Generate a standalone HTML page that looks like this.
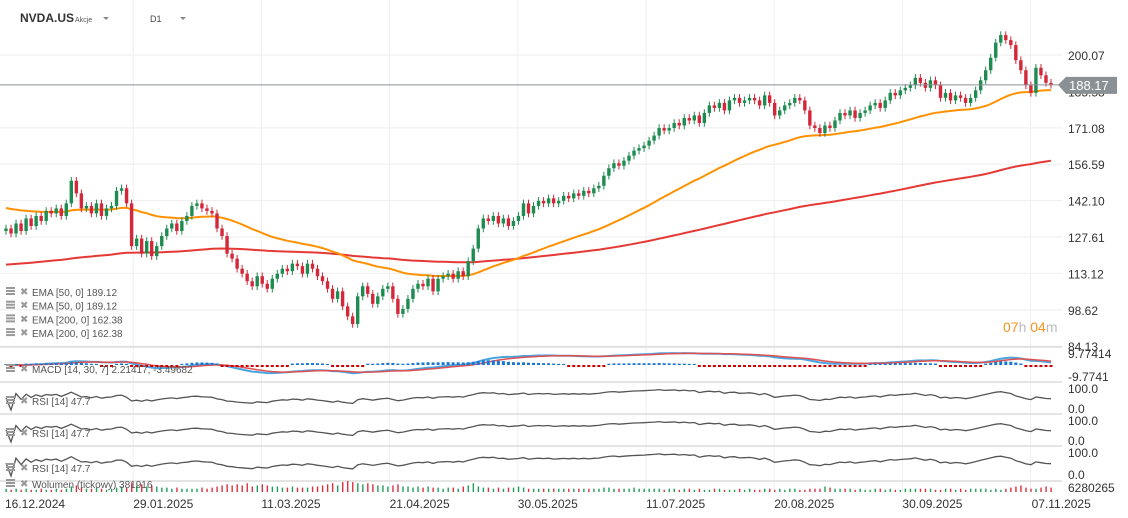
<!DOCTYPE html>
<html><head><meta charset="utf-8"><style>
body{margin:0;background:#fff;}
svg{display:block;font-family:"Liberation Sans",sans-serif;}
</style></head><body>
<svg id="c" width="1128" height="518" viewBox="0 0 1128 518">
<g id="grid"></g>
<g id="marks"></g>
<g>
<text x="20" y="22" font-size="12" font-weight="bold" fill="#333">NVDA.US</text>
<text x="75" y="22" font-size="7" fill="#555">Akcje</text>
<path d="M103 17 l6 0 l-3 3z" fill="#888"/>
<text x="150" y="22" font-size="9" fill="#444">D1</text>
<path d="M180 17 l6 0 l-3 3z" fill="#888"/>
</g>
<text x="1003" y="332" font-size="14" fill="#f7931e">07<tspan fill="#bbb">h</tspan> 04<tspan fill="#bbb">m</tspan></text>
</svg>
<script>
const closes=[131,129,133,130,135,132,136,134,
138,137,139,136,141,
150,145,
139,140,137,141,136,139,140,
146,147,141,
124,127,121,126,120,124,
128,131,133,130,134,136,
140,141,139,138,
137,131,128,
121,119,115,
113,110,108,112,109,107,
111,113,115,114,117,116,113,117,
115,112,110,107,103,106,
100,96,93,104,
108,105,101,104,107,108,
103,97,99,103,
107,109,108,111,106,
111,112,113,111,114,112,
118,123,131,
135,134,136,133,135,132,
134,136,141,
137,140,142,141,143,141,142,144,143,
145,144,146,145,147,148,
152,155,157,156,
158,160,162,163,164,
166,168,171,170,
171,173,172,175,174,176,173,
177,180,179,181,178,
182,183,181,182,183,182,180,184,181,
176,178,180,181,183,182,
178,172,171,169,172,171,
174,177,176,178,175,177,178,180,
181,179,182,185,184,186,
187,188,191,189,187,190,188,
183,185,182,184,183,181,183,186,
190,194,199,205,
208,206,204,
198,194,188,
185,195,192,189,188.17];
const volumes=[3,2,3,2,3,2,2,3,2,2,3,2,3,5,6,4,3,3,4,3,2,3,4,5,4,8,6,7,5,6,5,4,4,3,4,3,3,3,3,4,3,4,5,6,7,6,7,6,8,5,6,7,6,5,5,4,4,5,4,4,4,5,5,6,7,8,6,9,10,9,8,7,8,7,6,6,5,6,7,5,5,4,5,4,5,4,4,3,4,4,3,5,6,8,5,4,4,3,4,3,4,4,5,4,3,3,3,3,3,3,3,3,3,3,3,3,3,3,3,4,4,3,3,3,3,4,3,3,3,3,3,2,3,3,2,3,3,2,3,2,2,3,3,2,2,2,3,2,3,2,2,3,3,2,3,2,3,3,2,2,3,3,3,5,4,3,3,3,3,2,3,2,2,3,3,2,3,2,2,3,3,3,3,3,3,2,2,3,3,2,3,2,3,3,3,3,2,3,2,3,4,5,6,4,3,3,4,5,4,3,4,3,3,4,3];
const priceTicks=[200.07,185.58,171.08,156.59,142.10,127.61,113.12,98.62,84.13];
const dateLabels=["16.12.2024","29.01.2025","11.03.2025","21.04.2025","30.05.2025","11.07.2025","20.08.2025","30.09.2025","07.11.2025"];
const emaLegend=["EMA  [50,  0] 189.12","EMA  [50,  0] 189.12","EMA  [200,  0] 162.38","EMA  [200,  0] 162.38"];

const svg=document.getElementById('c'),G=document.getElementById('grid'),M=document.getElementById('marks');
const NS='http://www.w3.org/2000/svg';
function mk(t,a,p){const e=document.createElementNS(NS,t);for(const k in a)e.setAttribute(k,a[k]);(p||M).appendChild(e);return e;}
const N=closes.length,X0=6,X1=1051;
const xs=i=>X0+i*(X1-X0)/(N-1);
const yp=p=>55+(200.07-p)*2.512;

// grid
priceTicks.forEach((p,i)=>{if(i==1)return;const l=mk('line',{x1:0,x2:1062,y1:yp(p),y2:yp(p),stroke:'#eeeeee'},G);
});
dateLabels.forEach((d,i)=>{const gx=5+i*128.2;
if(i>0){const l=mk('line',{x1:gx,x2:gx,y1:0,y2:492,stroke:'#efefef'},G);}
const t=mk('text',{x:i==8?gx+1:gx,y:508,'font-size':12,fill:'#333'},G);t.textContent=d;
});
[347,382,414,446,481].forEach(y=>{const l=mk('line',{x1:0,x2:1062,y1:y,y2:y,stroke:'#dcdcdc','stroke-width':1.5},G);
});
priceTicks.forEach(p=>{const t=mk('text',{x:1068,y:yp(p)+5,'font-size':12,fill:'#333'},G);t.textContent=p.toFixed(2);
});

// EMA
function ema(arr,n,seed){const a=2/(n+1);let v=seed;return arr.map(c=>v=v+a*(c-v));}
const e50=ema(closes,50,139.5),e200=ema(closes,200,116.5);
function line(vals,yf,col,w,name){const d=vals.map((v,i)=>(i?'L':'M')+xs(i).toFixed(1)+' '+yf(v).toFixed(1)).join('');
const p=mk('path',{d:d,fill:'none',stroke:col,'stroke-width':w});return p;}
line(e200,yp,'#e53935',2,'ema-200-line');
line(e50,yp,'#ff9100',2,'ema-50-line');

// candles
for(let i=0;i<N;i++){const o=i?closes[i-1]:closes[0]-1,c=closes[i];const up=c>=o;const col=up?'#1e8c50':'#d3273a';
const hi=Math.max(o,c)+1.5,lo=Math.min(o,c)-1.5,x=xs(i);
const g=mk('g',{});
mk('line',{x1:x,x2:x,y1:yp(hi),y2:yp(lo),stroke:col,'stroke-width':1},g);
const top=yp(Math.max(o,c)),h=Math.max(1.5,yp(Math.min(o,c))-top);
mk('rect',{x:x-1.7,y:top,width:3.4,height:h,fill:col},g);}

// current price
const cp=closes[N-1];
const pl=mk('line',{x1:0,x2:1060,y1:yp(cp),y2:yp(cp),stroke:'#8a9093','stroke-width':1});
const tag=mk('path',{d:`M1058 ${yp(cp)} L1066 ${yp(cp)-8} L1117 ${yp(cp)-8} L1117 ${yp(cp)+9} L1066 ${yp(cp)+9}Z`,fill:'#8a9093'});
const tt=mk('text',{x:1069,y:yp(cp)+5,'font-size':13,fill:'#fff'});tt.textContent=cp.toFixed(2);

// MACD
const f=ema(closes,14,closes[0]),s=ema(closes,30,closes[0]);const macd=f.map((v,i)=>v-s[i]);const sig=ema(macd,7,0);
const ym=v=>Math.max(350,Math.min(378,365-v*1.23));
line(macd,ym,'#4aa3df',2,'macd-line');line(sig,ym,'#e05050',1.5,'macd-signal-line');
macd.forEach((v,i)=>{const h=v-sig[i];const pos=h>=0;const hh=Math.min(8,Math.abs(h)*1.5)+1;
const r=mk('rect',{x:xs(i)-1.5,y:pos?365-hh:365,width:3,height:pos?hh:2,fill:pos?'#1976d2':'#d00000'});});

// RSI
function rsi(arr,n){let g=0,l=0;const out=[];for(let i=0;i<arr.length;i++){const d=i?arr[i]-arr[i-1]:0;
g=(g*(n-1)+Math.max(d,0))/n;l=(l*(n-1)+Math.max(-d,0))/n;out.push(l===0&&g===0?50:100*g/(g+l));}return out;}
const r=rsi(closes,14);
[[386,410],[418,442],[450,476]].forEach((b,k)=>{line(r,v=>b[1]-(v/100)*(b[1]-b[0]),'#555',1.3,'rsi-line');
let t=mk('text',{x:1068,y:b[0]+7,'font-size':12,fill:'#333'});t.textContent='100.0';
t=mk('text',{x:1068,y:b[1]+3,'font-size':12,fill:'#333'});t.textContent='0.0';});
let t=mk('text',{x:1068,y:358,'font-size':12,fill:'#333'});t.textContent='9.77414';
t=mk('text',{x:1068,y:381,'font-size':12,fill:'#333'});t.textContent='-9.7741';
t=mk('text',{x:1068,y:492,'font-size':12,fill:'#333'});t.textContent='6280265';

// volume
volumes.slice(0,N).forEach((v,i)=>{const up=i==0||closes[i]>=closes[i-1];
const b=mk('rect',{x:xs(i)-0.6,y:492-v*1.1,width:1.4,height:v*1.1,fill:up?'#1ea05a':'#e03040'});});

// legends
function legend(y,txt,name){const g=mk('g',{});
mk('rect',{x:6,y:y-8,width:9,height:2,fill:'#999'},g);mk('rect',{x:6,y:y-5,width:9,height:2,fill:'#999'},g);mk('rect',{x:6,y:y-2,width:9,height:2,fill:'#999'},g);
const x=mk('text',{x:20,y:y,'font-size':10,fill:'#999'},g);x.textContent='✖';
const tx=mk('text',{x:32,y:y+1,'font-size':10,fill:'#555','xml:space':'preserve'},g);tx.textContent=txt;}
emaLegend.forEach((s,i)=>legend(295+i*13.7,s,'ema-legend-entry'));
legend(372,'MACD  [14, 30, 7]  2.21417, -3.49682','macd-legend');
legend(404,'RSI  [14]  47.7','rsi-legend');
legend(436,'RSI  [14]  47.7','rsi-legend');
legend(471,'RSI  [14]  47.7','rsi-legend');
legend(487,'Wolumen  (tickowy)  381916','volume-legend');
</script>
</body></html>
